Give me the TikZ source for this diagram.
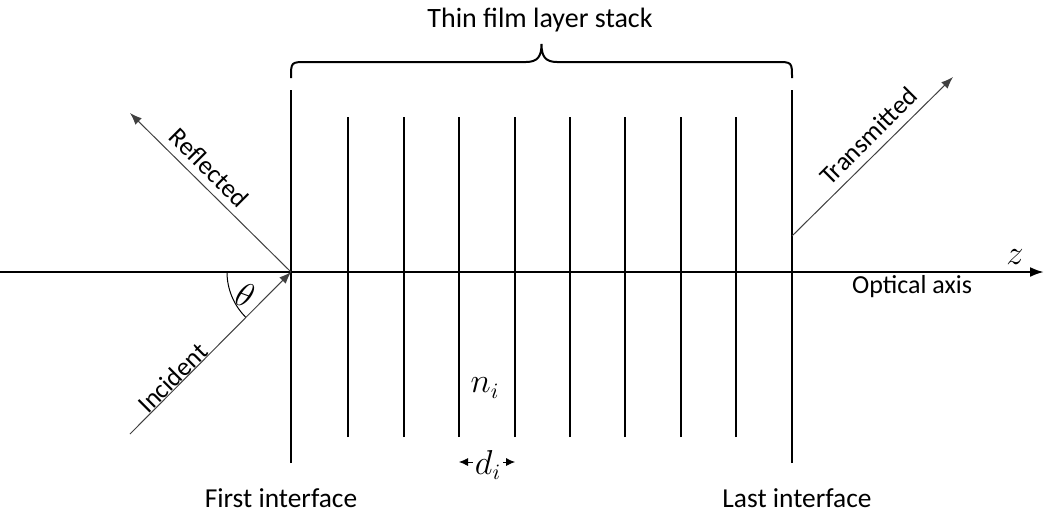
\documentclass[tikz,border=0pt]{standalone}
\usepackage{fontspec}
\setmainfont{Carlito}
\usetikzlibrary{arrows.meta}
\begin{document}
\begin{tikzpicture}[x=0.5pt,y=0.5pt,
  font=\fontsize{13}{15}\selectfont,
  iface/.style={line width=0.7pt},
  layer/.style={line width=0.6pt},
  axisline/.style={line width=1.2pt,-{Latex[length=7pt,width=5pt]}},
  ray/.style={line width=0.5pt,draw=black!75},
  raytip/.style={-{Latex[length=6pt,width=4.5pt]}},
  smalltip/.style={-{Latex[length=4.5pt,width=4pt]}},
  lbl/.style={inner sep=0pt,anchor=base},
  biglbl/.style={lbl,font=\fontsize{14}{16}\selectfont},
  midlbl/.style={lbl,font=\fontsize{13.7}{16}\selectfont},
  mathlbl/.style={inner sep=0pt,font=\fontsize{16}{18}\selectfont}]
\useasboundingbox (0,0) rectangle (1044,516);
% named points
\coordinate (axL) at (0,244);
\coordinate (axR) at (1044,244);
\coordinate (f1t) at (291,426);
\coordinate (f1b) at (291,53);
\coordinate (f2t) at (792,426);
\coordinate (f2b) at (792,53);
\coordinate (O1) at (291,244);
\coordinate (inc) at (130,82);
\coordinate (refl) at (130,403);
\coordinate (O2) at (792,280);
\coordinate (trans) at (953,439);
\coordinate (dl) at (459,54);
\coordinate (dr) at (515,54);
% optical axis
\draw[axisline] (axL) -- (axR);
% interfaces
\draw[iface] (f1b) -- (f1t);
\draw[iface] (f2b) -- (f2t);
\foreach \k/\xx in {1/348,2/404,3/459,4/515,5/570,6/625,7/681,8/736}{
  \coordinate (lb\k) at (\xx,79);
  \coordinate (lt\k) at (\xx,399);
  \draw[layer] (lb\k) -- (lt\k);
}
% rays
\draw[ray,raytip] (inc) -- (O1);
\draw[ray,raytip] (O1) -- (refl);
\draw[ray,raytip] (O2) -- (trans);
% angle
\draw[line width=0.5pt] (227,244) arc[start angle=180,end angle=225,radius=64];
\node[mathlbl,rotate=-20] (th) at (245,221) {$\theta$};
% brace
\draw[line width=1pt] (291,438) .. controls (291,454) .. (307,454) -- (526,454)
  .. controls (538,454) and (541.5,460) .. (541.5,472)
  .. controls (541.5,460) and (545,454) .. (557,454) -- (776,454)
  .. controls (792,454) .. (792,438);
% labels
\node[biglbl] (title) at (540,489) {Thin film layer stack};
\node[midlbl] (first) at (281,9) {First interface};
\node[midlbl] (last) at (797,9) {Last interface};
\node[lbl] (oa) at (912,223) {Optical axis};
\node[mathlbl] (z) at (1015,259) {$z$};
\node[lbl,rotate=45] (incl) at (179,132) {Incident};
\node[lbl,rotate=-45] (refll) at (203,342) {Reflected};
\node[lbl,rotate=45] (tl) at (874.5,373.5) {Transmitted};
\node[mathlbl] (ni) at (485,128) {$n_i$};
\node[mathlbl,inner sep=1pt] (di) at (488,51) {$d_i$};
\draw[smalltip] (di.west |- dl) -- (dl);
\draw[smalltip] (di.east |- dr) -- (dr);
\end{tikzpicture}
\end{document}
